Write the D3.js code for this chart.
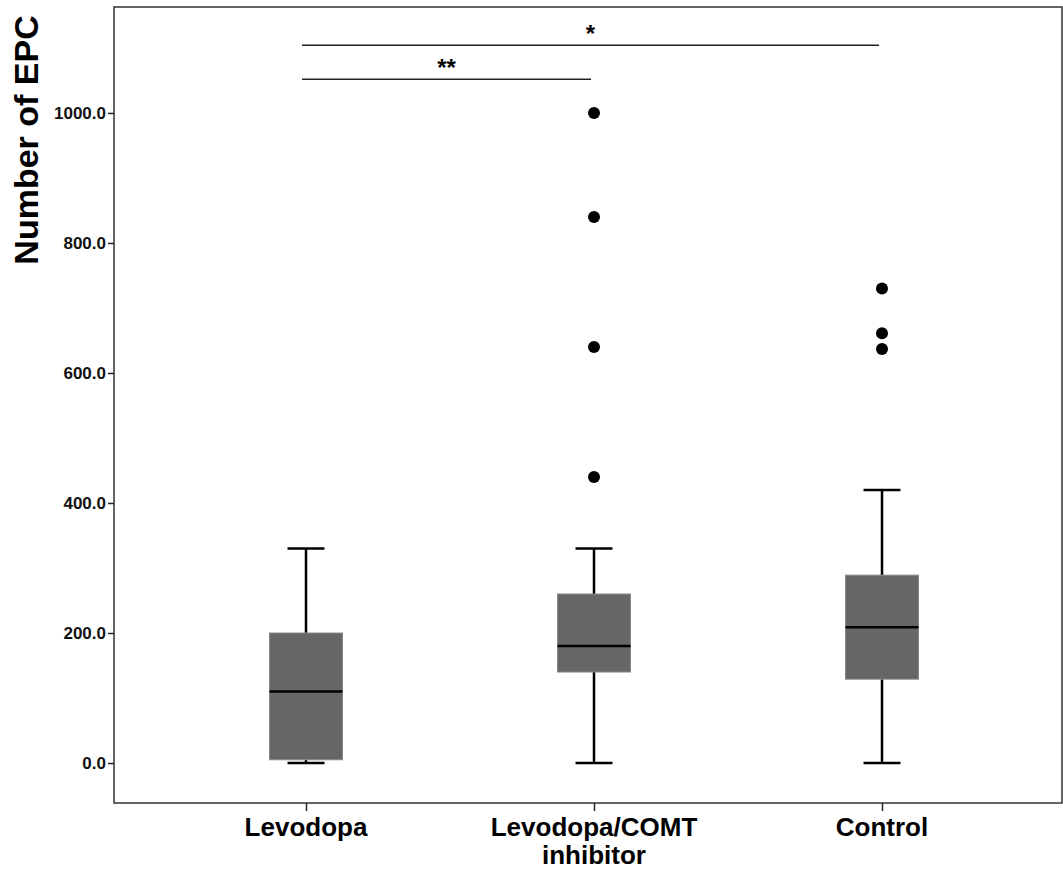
<!DOCTYPE html>
<html><head><meta charset="utf-8">
<script src="https://cdn.jsdelivr.net/npm/d3@7"></script>
<style>body{margin:0;background:#fff}svg{display:block}text{font-family:"Liberation Sans",Arial,sans-serif;font-weight:bold}</style>
</head><body><svg id="c" width="1063" height="870"></svg>
<script>
const categories = ["Levodopa", "Levodopa/COMT inhibitor", "Control"];
const categoryLines = [["Levodopa"], ["Levodopa/COMT", "inhibitor"], ["Control"]];
const whiskerLow = [0, 0, 0];
const q1 = [5, 140, 129];
const medians = [110, 180, 209];
const q3 = [200, 260, 289];
const whiskerHigh = [330, 330, 420];
const outliers = [[], [1000, 840, 640, 440], [730, 661, 637]];
const yTicks = [0, 200, 400, 600, 800, 1000];
const comparisons = [
  {from: 0, to: 2, level: 1104, label: "*"},
  {from: 0, to: 1, level: 1052, label: "**"}
];

const svg = d3.select("#c");
const L = 114, R = 1062, T = 7, B = 803;
const y = d3.scaleLinear().domain([-61.5, 1163]).range([B, T]);
const x = d3.scalePoint().domain(categories).range([306, 882]);
const boxW = 73, capW = 37;

// frame
svg.append("rect").attr("x", L).attr("y", T).attr("width", R - L).attr("height", B - T)
  .attr("fill", "none").attr("stroke", "#333").attr("stroke-width", 1.5);

// y axis
const yAxis = svg.append("g").attr("transform", `translate(${L},0)`)
  .call(d3.axisLeft(y).tickValues(yTicks).tickFormat(d3.format(".1f")).tickSize(6).tickPadding(2));
yAxis.select(".domain").remove();
yAxis.selectAll("line").attr("stroke", "#222").attr("stroke-width", 1.5);
yAxis.selectAll("text").attr("font-size", 17).attr("fill", "#111")
  .attr("font-family", '"Liberation Sans",Arial,sans-serif').attr("font-weight", "bold");

// x axis
const xAxis = svg.append("g").attr("transform", `translate(0,${B})`)
  .call(d3.axisBottom(x).tickSize(8).tickFormat(""));
xAxis.select(".domain").remove();
xAxis.selectAll("line").attr("stroke", "#222").attr("stroke-width", 1.5);
categories.forEach((c, i) => {
  categoryLines[i].forEach((ln, j) => svg.append("text").attr("x", x(c)).attr("y", 836 + j * 28)
    .attr("text-anchor", "middle").attr("font-size", 26).attr("fill", "#000").text(ln));
});

// y title
svg.append("text").attr("transform", "translate(38,140) rotate(-90)").attr("text-anchor", "middle")
  .attr("font-size", 34).attr("fill", "#000").text("Number of EPC");

// boxes
categories.forEach((c, i) => {
  const cx = x(c);
  const g = svg.append("g");
  g.append("line").attr("x1", cx).attr("x2", cx).attr("y1", y(whiskerLow[i])).attr("y2", y(q1[i]))
    .attr("stroke", "#000").attr("stroke-width", 2.5);
  g.append("line").attr("x1", cx).attr("x2", cx).attr("y1", y(q3[i])).attr("y2", y(whiskerHigh[i]))
    .attr("stroke", "#000").attr("stroke-width", 2.5);
  [whiskerLow[i], whiskerHigh[i]].forEach(v => g.append("line")
    .attr("x1", cx - capW / 2).attr("x2", cx + capW / 2).attr("y1", y(v)).attr("y2", y(v))
    .attr("stroke", "#000").attr("stroke-width", 2.5));
  g.append("rect").attr("x", cx - boxW / 2).attr("width", boxW).attr("y", y(q3[i]))
    .attr("height", y(q1[i]) - y(q3[i])).attr("fill", "#666").attr("stroke", "#888").attr("stroke-width", 1);
  g.append("line").attr("x1", cx - boxW / 2).attr("x2", cx + boxW / 2).attr("y1", y(medians[i])).attr("y2", y(medians[i]))
    .attr("stroke", "#000").attr("stroke-width", 2.5);
  outliers[i].forEach(v => g.append("circle").attr("cx", cx).attr("cy", y(v)).attr("r", 6).attr("fill", "#000"));
});

// significance
comparisons.forEach(cmp => {
  const x1 = x(categories[cmp.from]) - 4, x2 = x(categories[cmp.to]) - 3;
  const yy = y(cmp.level);
  svg.append("line").attr("x1", x1).attr("x2", x2).attr("y1", yy).attr("y2", yy)
    .attr("stroke", "#222").attr("stroke-width", 1.5);
  svg.append("text").attr("x", (x1 + x2) / 2).attr("y", yy - 3).attr("text-anchor", "middle")
    .attr("font-size", 24).attr("fill", "#000").text(cmp.label);
});
</script></body></html>
